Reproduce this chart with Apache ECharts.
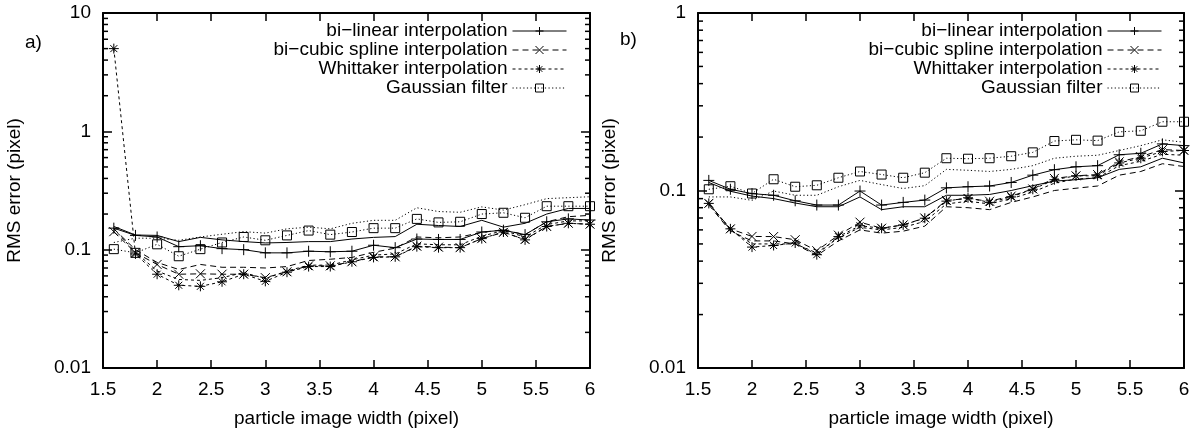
<!DOCTYPE html>
<html><head><meta charset="utf-8">
<script src="https://cdn.jsdelivr.net/npm/echarts@6/dist/echarts.min.js"></script>
<style>html,body{margin:0;padding:0;background:#fff}#c{width:1200px;height:433px}</style>
</head><body><div id="c"></div>
<script>
// ---------- data ----------
const widths = [1.6,1.8,2.0,2.2,2.4,2.6,2.8,3.0,3.2,3.4,3.6,3.8,4.0,4.2,4.4,4.6,4.8,5.0,5.2,5.4,5.6,5.8,6.0];
const names = ['bi\u2212linear interpolation','bi\u2212cubic spline interpolation','Whittaker interpolation','Gaussian filter'];

// panel a)
const aLinear      = [0.152,0.132,0.128,0.106,0.108,0.102,0.100,0.094,0.094,0.097,0.096,0.097,0.109,0.104,0.123,0.122,0.122,0.141,0.146,0.134,0.172,0.182,0.178];
const aLinear2     = [0.157,0.133,0.132,0.117,0.127,0.121,0.117,0.114,0.115,0.117,0.117,0.123,0.127,0.129,0.164,0.160,0.157,0.177,0.155,0.167,0.200,0.223,0.223];
const aCubic       = [0.142,0.094,0.075,0.062,0.0625,0.062,0.062,0.058,0.065,0.073,0.073,0.079,0.087,0.087,0.107,0.105,0.104,0.124,0.140,0.122,0.157,0.167,0.164];
const aCubic2      = [0.150,0.100,0.078,0.068,0.075,0.071,0.071,0.070,0.072,0.081,0.083,0.086,0.095,0.103,0.128,0.126,0.128,0.140,0.147,0.134,0.172,0.190,0.195];
const aWhittaker   = [5.0,0.092,0.062,0.050,0.049,0.0535,0.062,0.054,0.0645,0.072,0.072,0.079,0.086,0.087,0.106,0.104,0.104,0.124,0.141,0.121,0.157,0.167,0.164];
const aWhittaker2  = [0.150,0.095,0.066,0.056,0.055,0.058,0.064,0.057,0.066,0.074,0.074,0.082,0.090,0.092,0.112,0.110,0.110,0.130,0.145,0.128,0.163,0.175,0.175];
const aGauss       = [0.101,0.094,0.111,0.088,0.101,0.115,0.128,0.120,0.132,0.145,0.134,0.141,0.152,0.152,0.182,0.170,0.172,0.200,0.205,0.186,0.233,0.233,0.233];
const aGauss2      = [0.115,0.125,0.125,0.120,0.128,0.135,0.142,0.138,0.150,0.155,0.150,0.167,0.177,0.177,0.226,0.210,0.207,0.230,0.216,0.240,0.270,0.275,0.280];

// panel b)
const bLinear      = [0.114,0.1016,0.096,0.094,0.0875,0.0828,0.0828,0.0993,0.0828,0.0857,0.0883,0.1035,0.105,0.106,0.111,0.122,0.131,0.136,0.138,0.159,0.162,0.183,0.179];
const bLinear2     = [0.111,0.099,0.093,0.090,0.085,0.081,0.081,0.092,0.078,0.081,0.081,0.094,0.094,0.095,0.100,0.1065,0.113,0.115,0.118,0.1315,0.136,0.152,0.143];
const bCubic       = [0.0846,0.0608,0.0551,0.055,0.0528,0.0458,0.056,0.0663,0.0613,0.064,0.070,0.088,0.090,0.087,0.093,0.102,0.117,0.121,0.123,0.145,0.155,0.170,0.168];
const bCubic2      = [0.083,0.059,0.052,0.052,0.050,0.043,0.052,0.060,0.0575,0.059,0.063,0.081,0.080,0.078,0.0857,0.092,0.100,0.103,0.106,0.122,0.128,0.1415,0.1365];
const bWhittaker   = [0.0846,0.0608,0.048,0.049,0.0506,0.0435,0.055,0.0633,0.0613,0.064,0.0698,0.0871,0.091,0.0857,0.092,0.1016,0.115,0.121,0.121,0.143,0.152,0.166,0.168];
const bWhittaker2  = [0.084,0.060,0.050,0.050,0.050,0.0445,0.054,0.062,0.060,0.062,0.067,0.084,0.087,0.084,0.090,0.098,0.110,0.116,0.118,0.138,0.146,0.160,0.158];
const bGauss       = [0.1016,0.1057,0.0962,0.1157,0.105,0.107,0.118,0.128,0.123,0.118,0.126,0.152,0.151,0.152,0.156,0.164,0.190,0.193,0.191,0.214,0.217,0.244,0.244];
const bGauss2      = [0.092,0.092,0.088,0.0993,0.094,0.094,0.105,0.114,0.108,0.1026,0.1065,0.1315,0.130,0.128,0.1315,0.138,0.152,0.156,0.158,0.168,0.179,0.193,0.187];

const xMin = 1.5, xMax = 6, xStep = 0.5;
const aYMin = 0.01, aYMax = 10, bYMin = 0.01, bYMax = 1;
const minorMant = [2,3,4,5,6,7,8,9];
const xTitle = 'particle image width (pixel)';
const yTitle = 'RMS error (pixel)';

// ---------- styles ----------
const FONT = 'Liberation Sans, Arial, Helvetica, sans-serif';
const FS = 19;
const SYM = {
  plus: 'path://M0,5L10,5M5,0L5,10',
  cross: 'path://M0,0L10,10M10,0L0,10',
  star: 'path://M0,5L10,5M5,0L5,10M1.5,1.5L8.5,8.5M8.5,1.5L1.5,8.5',
  square: 'path://M0,0L10,0L10,10L0,10Z'
};
const DASH = { solid: 'solid', dash: [6,4], sdash: [3,3], dot: [1.2,2.4] };

function decadeTicks(lo, hi){
  const out = [];
  for (let e = Math.round(Math.log10(lo)); e < Math.round(Math.log10(hi)); e++)
    minorMant.forEach(m => out.push(m * Math.pow(10, e)));
  return out;
}

function lineSeries(name, vals, xi, yi, dash, sym, size){
  return {
    type: 'line', name, xAxisIndex: xi, yAxisIndex: yi,
    data: widths.map((x, i) => [x, vals[i]]),
    symbol: sym ? SYM[sym] : 'none', symbolSize: size || 10, showSymbol: !!sym,
    lineStyle: { color: '#000', width: 1, type: DASH[dash] },
    itemStyle: { color: 'transparent', borderColor: '#000', borderWidth: 1 },
    emphasis: { disabled: true }, silent: true, z: 3
  };
}

function minorSeries(xi, yi, lo, hi){
  return {
    type: 'custom', xAxisIndex: xi, yAxisIndex: yi, silent: true, clip: false, z: 5,
    data: decadeTicks(lo, hi).map(v => [xMin, v]),
    renderItem: function(params, api){
      const v = api.value(1);
      const l = api.coord([xMin, v]);
      const r = api.coord([xMax, v]);
      const st = { stroke: '#000', lineWidth: 1.5 };
      return { type: 'group', children: [
        { type: 'line', shape: { x1: l[0], y1: l[1], x2: l[0] + 5, y2: l[1] }, style: st },
        { type: 'line', shape: { x1: r[0] - 5, y1: r[1], x2: r[0], y2: r[1] }, style: st }
      ]};
    }
  };
}

function xAxes(gi){
  const base = {
    gridIndex: gi, type: 'value', min: xMin, max: xMax, interval: xStep,
    axisLine: { show: true, onZero: false, lineStyle: { color: '#000', width: 2 } },
    axisTick: { show: true, inside: true, length: 8, lineStyle: { color: '#000', width: 1.5 } },
    splitLine: { show: false }
  };
  return [
    Object.assign({}, base, { position: 'bottom',
      axisLabel: { color: '#000', fontFamily: FONT, fontSize: FS, margin: 12 },
      name: xTitle, nameLocation: 'middle', nameGap: 41,
      nameTextStyle: { color: '#000', fontFamily: FONT, fontSize: FS } }),
    Object.assign({}, base, { position: 'top', axisLabel: { show: false } })
  ];
}
function yAxes(gi, lo, hi){
  const base = {
    gridIndex: gi, type: 'log', logBase: 10, min: lo, max: hi,
    axisLine: { show: true, onZero: false, lineStyle: { color: '#000', width: 2 } },
    axisTick: { show: true, inside: true, length: 9, lineStyle: { color: '#000', width: 1.5 } },
    splitLine: { show: false }, minorTick: { show: false }
  };
  return [
    Object.assign({}, base, { position: 'left',
      axisLabel: { color: '#000', fontFamily: FONT, fontSize: FS, margin: 12,
        formatter: v => String(Number(Number(v).toPrecision(6))) },
      name: yTitle, nameLocation: 'middle', nameGap: 79, nameRotate: 90,
      nameTextStyle: { color: '#000', fontFamily: FONT, fontSize: FS } }),
    Object.assign({}, base, { position: 'right', axisLabel: { show: false } })
  ];
}

function legend(gi, right){
  return {
    show: true, orient: 'vertical', align: 'right', right: right, top: 21.5, padding: 0,
    itemWidth: 54, itemHeight: 10, itemGap: 0, selectedMode: false,
    lineStyle: { width: 1 }, itemStyle: { borderWidth: 1 },
    textStyle: { color: '#000', fontFamily: FONT, fontSize: FS, lineHeight: 19 },
    data: names
  };
}

const series = [
  lineSeries(names[0], aLinear, 0, 0, 'solid', 'plus', 11),
  lineSeries('a-linear-2', aLinear2, 0, 0, 'solid'),
  lineSeries(names[1], aCubic, 0, 0, 'dash', 'cross', 9),
  lineSeries('a-cubic-2', aCubic2, 0, 0, 'dash'),
  lineSeries(names[2], aWhittaker, 0, 0, 'sdash', 'star', 10),
  lineSeries('a-whit-2', aWhittaker2, 0, 0, 'sdash'),
  lineSeries(names[3], aGauss, 0, 0, 'dot', 'square', 9),
  lineSeries('a-gauss-2', aGauss2, 0, 0, 'dot'),
  lineSeries(names[0], bLinear, 2, 2, 'solid', 'plus', 11),
  lineSeries('b-linear-2', bLinear2, 2, 2, 'solid'),
  lineSeries(names[1], bCubic, 2, 2, 'dash', 'cross', 9),
  lineSeries('b-cubic-2', bCubic2, 2, 2, 'dash'),
  lineSeries(names[2], bWhittaker, 2, 2, 'sdash', 'star', 10),
  lineSeries('b-whit-2', bWhittaker2, 2, 2, 'sdash'),
  lineSeries(names[3], bGauss, 2, 2, 'dot', 'square', 9),
  lineSeries('b-gauss-2', bGauss2, 2, 2, 'dot'),
  minorSeries(0, 0, aYMin, aYMax),
  minorSeries(2, 2, bYMin, bYMax)
];

const chart = echarts.init(document.getElementById('c'), null, { renderer: 'canvas' });
chart.setOption({
  animation: false,
  backgroundColor: '#fff',
  textStyle: { fontFamily: FONT },
  grid: [
    { left: 103, right: 610, top: 13, bottom: 62 },
    { left: 698, right: 16, top: 13, bottom: 62 }
  ],
  xAxis: [].concat(xAxes(0), xAxes(1)),
  yAxis: [].concat(yAxes(0, aYMin, aYMax), yAxes(1, bYMin, bYMax)),
  legend: [ legend(0, 633), legend(1, 38) ],
  graphic: [
    { type: 'text', left: 25, top: 33, style: { text: 'a)', font: FS + 'px ' + FONT, fill: '#000' } },
    { type: 'text', left: 620, top: 30, style: { text: 'b)', font: FS + 'px ' + FONT, fill: '#000' } }
  ],
  series
});
</script></body></html>
